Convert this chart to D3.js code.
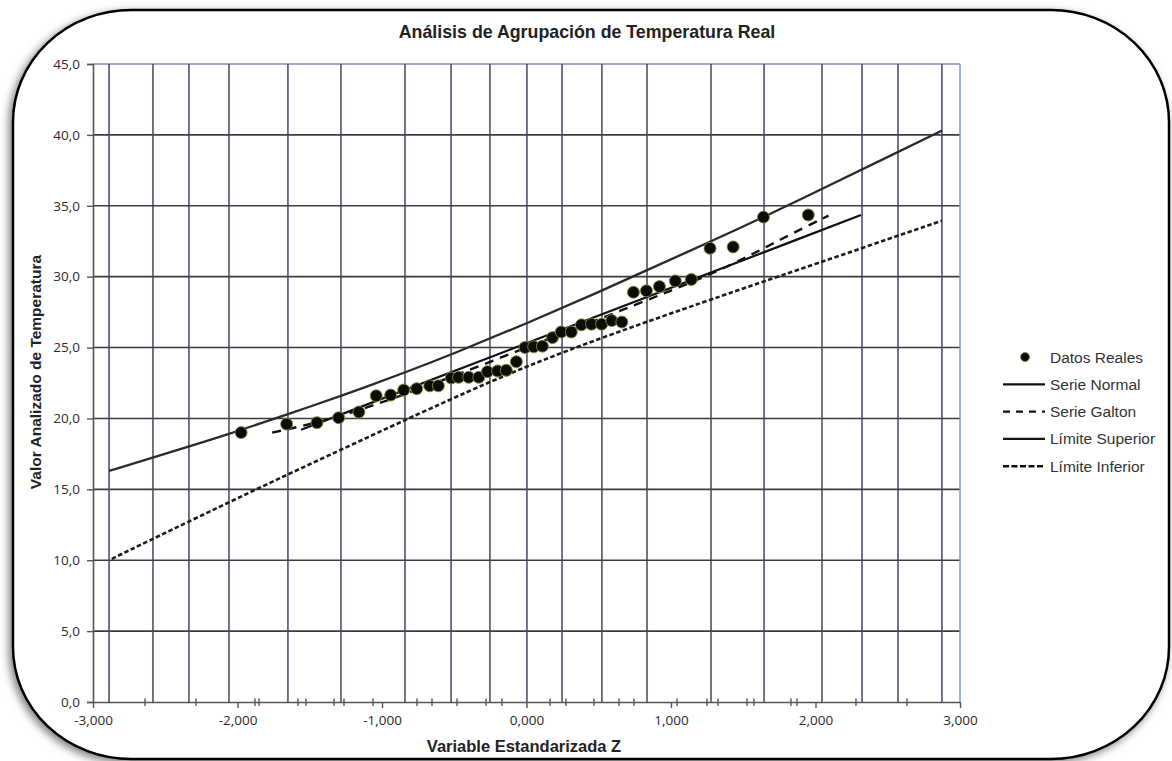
<!DOCTYPE html>
<html><head><meta charset="utf-8">
<script src="https://cdn.jsdelivr.net/npm/d3@7"></script>
<style>
html,body{margin:0;padding:0;background:#fff;}
svg{display:block;}
</style></head>
<body>
<svg id="chart" width="1172" height="761"></svg>
<script>
// ---------- DATA ----------
const title = "Análisis de Agrupación de Temperatura Real";
const xTitle = "Variable Estandarizada Z";
const yTitle = "Valor Analizado de Temperatura";
const xTicks = [-3,-2,-1,0,1,2,3];
const yTicks = [0,5,10,15,20,25,30,35,40,45];
// vertical gridlines (irregular, as in the reference)
const zGrid = [-2.889,-2.585,-2.336,-2.059,-1.651,-1.284,-0.841,-0.522,-0.253,0.003,0.246,0.522,0.834,1.277,1.644,2.045,2.322,2.571,2.875];
// small marks along the x axis
const zMinor = [-2.640,-2.287,-1.879,-1.851,-1.581,-1.526,-1.332,-1.263,-1.062,-0.758,-0.654,-0.481,-0.280,-0.170,0.163,0.273,0.467,0.640,0.744,1.042,1.249,1.325,1.526,1.574,1.830,1.872,2.280,2.633];

const zReal = [-1.975,-1.66,-1.45,-1.30,-1.16,-1.04,-0.94,-0.85,-0.76,-0.67,-0.61,-0.52,-0.47,-0.40,-0.33,-0.27,-0.20,-0.14,-0.07,-0.01,0.05,0.11,0.18,0.24,0.31,0.38,0.45,0.52,0.59,0.66,0.74,0.83,0.92,1.03,1.14,1.27,1.43,1.64,1.95];
const vReal = [19.0,19.6,19.7,20.05,20.45,21.6,21.65,22.0,22.1,22.3,22.3,22.85,22.9,22.9,22.9,23.3,23.35,23.4,24.0,25.0,25.05,25.1,25.7,26.1,26.1,26.6,26.65,26.65,26.9,26.8,28.9,29.0,29.3,29.7,29.8,32.0,32.1,34.2,34.35];

const zNormal = [-1.56, 0, 2.315];
const vNormal = [19.2, 25.3, 34.35];

const zGalton = [-1.76,-1.4,-1.0,-0.5,0,0.5,1.0,1.42,1.75,2.09];
const vGalton = [19.0,19.8,21.1,23.0,25.0,27.0,29.0,30.8,32.6,34.3];

const zSup = [-2.889,-2.5,-2.059,-1.65,-1.28,-0.85,-0.52,0,0.52,0.83,1.28,1.64,2.11,2.5,2.875];
const vSup = [16.3,17.5,18.9,20.3,21.6,23.2,24.5,26.7,29.0,30.45,32.5,34.2,36.5,38.45,40.3];

const zInf = [-2.87,-2.06,-1.39,-0.52,0,0.6,1.28,1.61,2.16,2.875];
const vInf = [10.1,14.1,17.3,21.4,23.7,26.0,28.4,29.55,31.45,33.95];

const legendLabels = ["Datos Reales","Serie Normal","Serie Galton","Límite Superior","Límite Inferior"];

// ---------- DRAW ----------
const svg = d3.select("#chart");
const defs = svg.append("defs");
const f = defs.append("filter").attr("id","shadow").attr("x","-5%").attr("y","-5%").attr("width","110%").attr("height","110%");
f.append("feDropShadow").attr("dx",-3).attr("dy",3).attr("stdDeviation",4).attr("flood-color","#000").attr("flood-opacity",0.5);

svg.append("rect").attr("x",13).attr("y",10).attr("width",1156).attr("height",749)
  .attr("rx",118).attr("ry",112).attr("fill","#fff").attr("stroke","#000").attr("stroke-width",2.5)
  .attr("filter","url(#shadow)");

const x = d3.scaleLinear().domain([-3,3]).range([93,960]);
const y = d3.scaleLinear().domain([0,45]).range([702,64]);

const fmtX = d => (d<0?"-":"") + Math.abs(d).toFixed(3).replace(".",",");
const fmtY = d => d.toFixed(1).replace(".",",");

const tickFont = "'Open Sans', Lato, 'Liberation Sans', sans-serif";
const mainFont = "'Liberation Sans', Arial, sans-serif";

const g = svg.append("g");

// horizontal gridlines
g.selectAll(".hg").data(yTicks.filter(d=>d>0)).join("line")
  .attr("x1",x(-3)).attr("x2",x(3)).attr("y1",d=>y(d)).attr("y2",d=>y(d))
  .attr("stroke",d=>d===45?"#7f8fa6":"#3c3c3c").attr("stroke-width",1.6);

// vertical gridlines
g.selectAll(".vg").data(zGrid).join("line")
  .attr("x1",d=>x(d)).attr("x2",d=>x(d)).attr("y1",y(45)).attr("y2",y(0))
  .attr("stroke","#3d4a5e").attr("stroke-width",1.5);
// right plot edge
g.append("line").attr("x1",x(3)).attr("x2",x(3)).attr("y1",y(45)).attr("y2",y(0))
  .attr("stroke","#7b9cc9").attr("stroke-width",1.5);

// axes
const yAxis = d3.axisLeft(y).tickValues(yTicks).tickFormat(fmtY).tickSize(6).tickPadding(7);
const ya = svg.append("g").attr("transform",`translate(${x(-3)},0)`).call(yAxis);
ya.attr("font-size",null).attr("font-family",null);
ya.select(".domain").attr("stroke","#555").attr("stroke-width",1.6);
ya.selectAll(".tick line").attr("stroke","#555").attr("stroke-width",1.4);
ya.selectAll("text").style("font-family",tickFont).style("font-size","13.5px").attr("fill","#2a2a2a");

const xAxis = d3.axisBottom(x).tickValues(xTicks).tickFormat(fmtX).tickSize(6).tickPadding(7).tickSizeOuter(0);
const xa = svg.append("g").attr("transform",`translate(0,${y(0)})`).call(xAxis);
xa.attr("font-size",null).attr("font-family",null);
xa.select(".domain").attr("stroke","#555").attr("stroke-width",1.6);
xa.selectAll(".tick line").attr("stroke","#555").attr("stroke-width",1.4);
xa.selectAll("text").style("font-family",tickFont).style("font-size","13.5px").attr("fill","#2a2a2a");

// minor marks crossing the axis
svg.append("g").selectAll("line").data(zMinor).join("line")
  .attr("x1",d=>x(d)).attr("x2",d=>x(d)).attr("y1",y(0)-3.5).attr("y2",y(0)+4)
  .attr("stroke","#555").attr("stroke-width",1.4);

// lines
const line = d3.line().x(d=>x(d[0])).y(d=>y(d[1])).curve(d3.curveBasis);
const zip = (a,b)=>a.map((v,i)=>[v,b[i]]);

const pg = svg.append("g");
pg.append("path").datum(zip(zSup,vSup)).attr("d",line).attr("fill","none")
  .attr("stroke","#2a2a2a").attr("stroke-width",2.3);
pg.append("path").datum(zip(zInf,vInf)).attr("d",line).attr("fill","none")
  .attr("stroke","#1c1c1c").attr("stroke-width",2.6).attr("stroke-dasharray","4.5,2.5");
pg.append("path").datum(zip(zNormal,vNormal)).attr("d",line).attr("fill","none")
  .attr("stroke","#111").attr("stroke-width",2.2);
pg.append("path").datum(zip(zGalton,vGalton)).attr("d",line).attr("fill","none")
  .attr("stroke","#111").attr("stroke-width",2.4).attr("stroke-dasharray","9,7");

// points
pg.selectAll("circle").data(zip(zReal,vReal)).join("circle")
  .attr("cx",d=>x(d[0])).attr("cy",d=>y(d[1])).attr("r",6)
  .attr("fill","#0c0c08").attr("stroke","#7d8a3a").attr("stroke-width",0.9);

// titles
svg.append("text").attr("x",587).attr("y",38).attr("text-anchor","middle")
  .attr("font-family",mainFont).attr("font-weight","bold").attr("font-size",17.8).attr("fill","#222").text(title);
svg.append("text").attr("x",524).attr("y",752).attr("text-anchor","middle")
  .attr("font-family",mainFont).attr("font-weight","bold").attr("font-size",16.5).attr("fill","#222").text(xTitle);
svg.append("text").attr("transform","translate(41,372) rotate(-90)").attr("text-anchor","middle")
  .attr("font-family",mainFont).attr("font-weight","bold").attr("font-size",15.5).attr("fill","#222").text(yTitle);

// legend
const lg = svg.append("g").attr("transform","translate(1003,357)");
const styles = [null,{dash:null,w:2.2},{dash:"7,6",w:2.4},{dash:null,w:2.4},{dash:"6,2.5",w:2.4}];
legendLabels.forEach((t,i)=>{
  const row = lg.append("g").attr("transform",`translate(0,${i*27.3})`);
  if(i===0){
    row.append("circle").attr("cx",22).attr("cy",0).attr("r",4.5).attr("fill","#0c0c08").attr("stroke","#7d8a3a").attr("stroke-width",0.8);
  } else {
    row.append("line").attr("x1",0).attr("x2",42).attr("y1",0).attr("y2",0)
      .attr("stroke","#111").attr("stroke-width",styles[i].w).attr("stroke-dasharray",styles[i].dash);
  }
  row.append("text").attr("x",47).attr("y",5.5).attr("font-family",mainFont)
    .attr("font-size",15.5).attr("fill","#333").text(t);
});
</script>
</body></html>
